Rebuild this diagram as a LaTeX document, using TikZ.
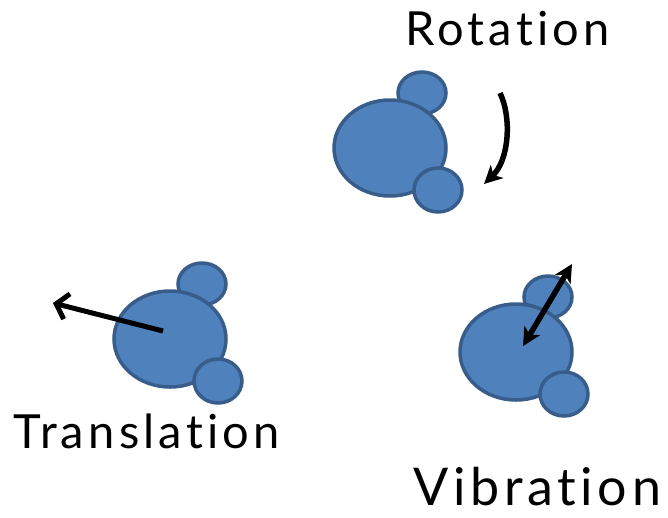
\documentclass[tikz,border=0pt]{standalone}
\usepackage{fontspec}
\setmainfont{Lato}[Ligatures={NoCommon},LetterSpace=9]
\usetikzlibrary{arrows.meta}
\begin{document}
\begin{tikzpicture}[x=1pt,y=-1pt,
  atom/.style={fill=atomfill,draw=atomedge,line width=3.5pt},
  headtip/.tip={Stealth[length=18pt,width=18pt,inset=5pt]},
  motion/.style={line width=5.5pt,-headtip},
  label/.style={font=\fontsize{47}{50}\selectfont,inner sep=0pt,anchor=base west}]
\definecolor{atomfill}{HTML}{4F81BD}
\definecolor{atomedge}{HTML}{385D8A}
\useasboundingbox (0,0) rectangle (668,517);
% one molecule: small atom behind, large atom, small atom in front
\newcommand\molecule[2]{%
  \begin{scope}[shift={(#1,#2)}]
    \draw[atom] (32,-55) ellipse [x radius=24, y radius=21];
    \draw[atom] (0,0) ellipse [x radius=56, y radius=48];
    \draw[atom] (48,42) ellipse [x radius=24, y radius=22];
  \end{scope}}
% rotation
\molecule{390}{148}
\coordinate (r1) at (500,93);
\coordinate (r2) at (484,184);
\draw[motion] (r1) .. controls (512,118) and (509,160) .. (r2);
\node[label] (rot) at (405,45) {Rotation};
% translation
\molecule{170}{339}
\coordinate (t1) at (163,331);
\coordinate (t2) at (53,303);
\draw[line width=5pt,-{Straight Barb[length=11pt,width=26pt,line width=5pt]}] (t1) -- (t2);
\node[label] (tra) at (13,448) {Translation};
% vibration
\molecule{516}{352}
\coordinate (v1) at (523,346);
\coordinate (v2) at (572,264);
\draw[motion,headtip-headtip] (v1) -- (v2);
\node[label,font=\fontsize{52}{55}\selectfont] (vib) at (413,505) {Vibration};
\end{tikzpicture}
\end{document}
